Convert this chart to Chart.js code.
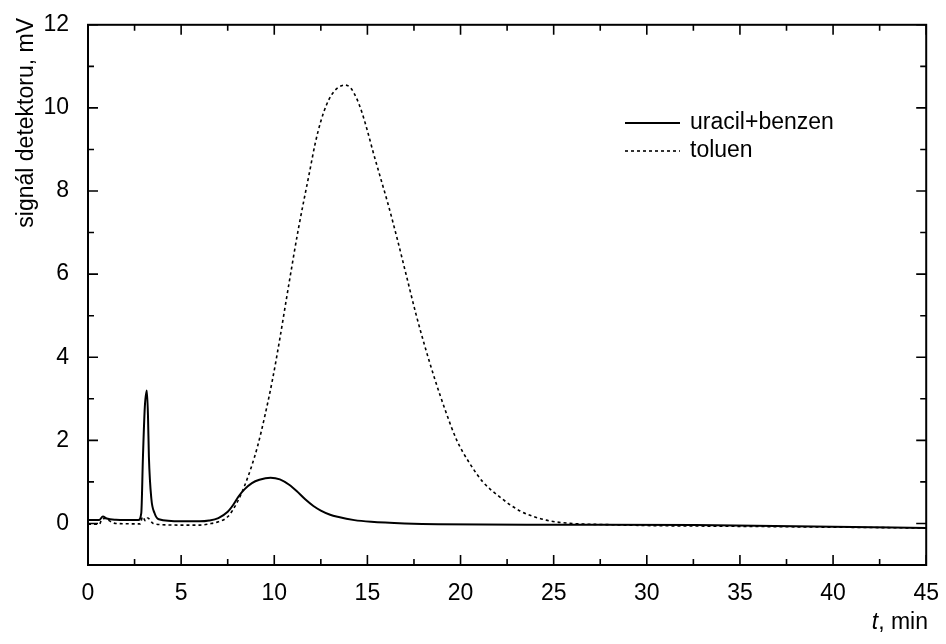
<!DOCTYPE html>
<html>
<head>
<meta charset="utf-8">
<script src="https://cdn.jsdelivr.net/npm/chart.js"></script>
<style>
  body { margin: 0; background: #fff; }
  #wrap { width: 946px; height: 644px; }
</style>
</head>
<body>
<div id="wrap"><canvas id="chromChart"></canvas></div>
<script>
// uracil+benzen (solid line) - time in min, signal in mV
const uracilT = [0, 0.6, 0.8, 1.0, 1.5, 2.7, 2.86, 2.95, 3.05, 3.16, 3.22, 3.27, 3.4, 3.57, 3.8, 5, 6, 6.5, 7, 7.5, 7.8, 8.1, 8.4, 8.8, 9.2, 9.8, 10.3, 10.8, 11.2, 11.66, 12.1, 12.5, 13.0, 13.4, 14.3, 15.2, 17, 18.8, 25, 32.6, 40, 45];
const uracilV = [0.08, 0.08, 0.17, 0.12, 0.09, 0.08, 0.25, 1.6, 2.8, 3.2, 2.6, 1.6, 0.6, 0.25, 0.1, 0.05, 0.05, 0.07, 0.13, 0.28, 0.45, 0.66, 0.82, 0.97, 1.05, 1.1, 1.06, 0.93, 0.78, 0.58, 0.42, 0.31, 0.21, 0.16, 0.08, 0.04, 0.0, -0.02, -0.03, -0.04, -0.08, -0.11];

// toluen (dotted line)
const toluenT = [0, 0.6, 0.75, 0.9, 1.2, 1.5, 2.8, 2.93, 3.09, 3.2, 3.5, 4, 5, 6, 6.5, 7, 7.5, 8, 8.4, 8.8, 9.1, 9.5, 9.9, 10.3, 10.8, 11.3, 11.9, 12.2, 12.5, 12.8, 13.1, 13.4, 13.8, 14.1, 14.4, 14.7, 15.0, 15.3, 15.65, 16.1, 16.6, 17.1, 17.6, 18.1, 18.6, 19.2, 19.8, 20.5, 21.2, 22.1, 23.2, 24.6, 26, 28, 30, 35, 40, 45];
const toluenV = [-0.02, -0.02, 0.1, 0.12, 0.05, 0.0, -0.01, 0.16, 0.06, 0.13, 0.0, -0.03, -0.04, -0.04, -0.01, 0.04, 0.16, 0.5, 0.9, 1.4, 1.85, 2.6, 3.45, 4.45, 5.8, 7.1, 8.47, 9.15, 9.68, 10.07, 10.33, 10.48, 10.55, 10.48, 10.25, 9.9, 9.45, 8.95, 8.4, 7.7, 6.85, 5.95, 5.05, 4.24, 3.5, 2.7, 2.0, 1.44, 1.0, 0.64, 0.3, 0.08, 0.0, -0.03, -0.05, -0.07, -0.09, -0.11];

// axis ticks
const xTicks = [0, 5, 10, 15, 20, 25, 30, 35, 40, 45];
const xMinor = [2.5, 7.5, 12.5, 17.5, 22.5, 27.5, 32.5, 37.5, 42.5];
const yTicks = [0, 2, 4, 6, 8, 10, 12];
const yMinor = [-1, 1, 3, 5, 7, 9, 11];

const FONT = '"Liberation Sans", Arial, sans-serif';

function pts(ts, vs) {
    return ts.map((t, i) => ({ x: t, y: vs[i] }));
}

// frame, inward ticks, legend and axis titles
const decor = {
    id: 'decor',
    afterDraw(chart) {
        const { ctx, chartArea: a, scales: { x, y } } = chart;
        ctx.save();
        ctx.strokeStyle = '#000';
        ctx.lineWidth = 2;
        ctx.strokeRect(a.left, a.top, a.right - a.left, a.bottom - a.top);

        ctx.lineWidth = 1.6;
        ctx.beginPath();
        const tickX = (v, len) => {
            const px = x.getPixelForValue(v);
            ctx.moveTo(px, a.bottom); ctx.lineTo(px, a.bottom - len);
            ctx.moveTo(px, a.top); ctx.lineTo(px, a.top + len);
        };
        const tickY = (v, len) => {
            const py = y.getPixelForValue(v);
            ctx.moveTo(a.left, py); ctx.lineTo(a.left + len, py);
            ctx.moveTo(a.right, py); ctx.lineTo(a.right - len, py);
        };
        xTicks.forEach(v => tickX(v, 10));
        xMinor.forEach(v => tickX(v, 6));
        yTicks.forEach(v => tickY(v, 10));
        yMinor.forEach(v => tickY(v, 6));
        ctx.stroke();

        // legend
        ctx.fillStyle = '#000';
        ctx.font = '23px ' + FONT;
        ctx.textBaseline = 'middle';
        ctx.textAlign = 'left';
        chart.data.datasets.forEach((ds, i) => {
            const ly = 123 + i * 28;
            ctx.beginPath();
            ctx.lineWidth = ds.borderWidth;
            ctx.setLineDash(ds.borderDash || []);
            ctx.moveTo(625, ly); ctx.lineTo(680, ly);
            ctx.stroke();
            ctx.setLineDash([]);
            ctx.fillText(ds.label, 690, ly);
        });

        // x title: italic t, then ", min"
        ctx.textBaseline = 'alphabetic';
        ctx.textAlign = 'left';
        ctx.font = '23px ' + FONT;
        const rest = ', min';
        const wRest = ctx.measureText(rest).width;
        ctx.font = 'italic 23px ' + FONT;
        const wT = ctx.measureText('t').width;
        const xEnd = 928;
        ctx.fillText('t', xEnd - wRest - wT, 629);
        ctx.font = '23px ' + FONT;
        ctx.fillText(rest, xEnd - wRest, 629);

        // y title
        ctx.translate(33, 18);
        ctx.rotate(-Math.PI / 2);
        ctx.textAlign = 'right';
        ctx.fillText('signál detektoru, mV', 0, 0);
        ctx.restore();
    }
};

new Chart(document.getElementById('chromChart'), {
    type: 'line',
    data: {
        datasets: [
            {
                label: 'uracil+benzen',
                data: pts(uracilT, uracilV),
                borderColor: '#000',
                borderWidth: 2,
                pointRadius: 0,
                cubicInterpolationMode: 'monotone'
            },
            {
                label: 'toluen',
                data: pts(toluenT, toluenV),
                borderColor: '#000',
                borderWidth: 1.6,
                borderDash: [3, 3],
                pointRadius: 0,
                cubicInterpolationMode: 'monotone'
            }
        ]
    },
    options: {
        responsive: true,
        maintainAspectRatio: false,
        animation: false,
        layout: { padding: { top: 23, right: 1, left: 0, bottom: 0 } },
        plugins: { legend: { display: false }, tooltip: { enabled: false } },
        scales: {
            x: {
                type: 'linear',
                min: 0, max: 45,
                grid: { display: false },
                border: { display: false },
                afterBuildTicks: s => { s.ticks = xTicks.map(v => ({ value: v })); },
                afterFit: s => { s.height = 644 - 565; },
                ticks: { color: '#000', font: { family: FONT, size: 23 }, padding: 7, maxRotation: 0 }
            },
            y: {
                min: -1, max: 12,
                grid: { display: false },
                border: { display: false },
                afterBuildTicks: s => { s.ticks = yTicks.map(v => ({ value: v })); },
                afterFit: s => { s.width = 88; },
                ticks: { color: '#000', font: { family: FONT, size: 23 }, padding: 11 }
            }
        }
    },
    plugins: [decor]
});
</script>
</body>
</html>
